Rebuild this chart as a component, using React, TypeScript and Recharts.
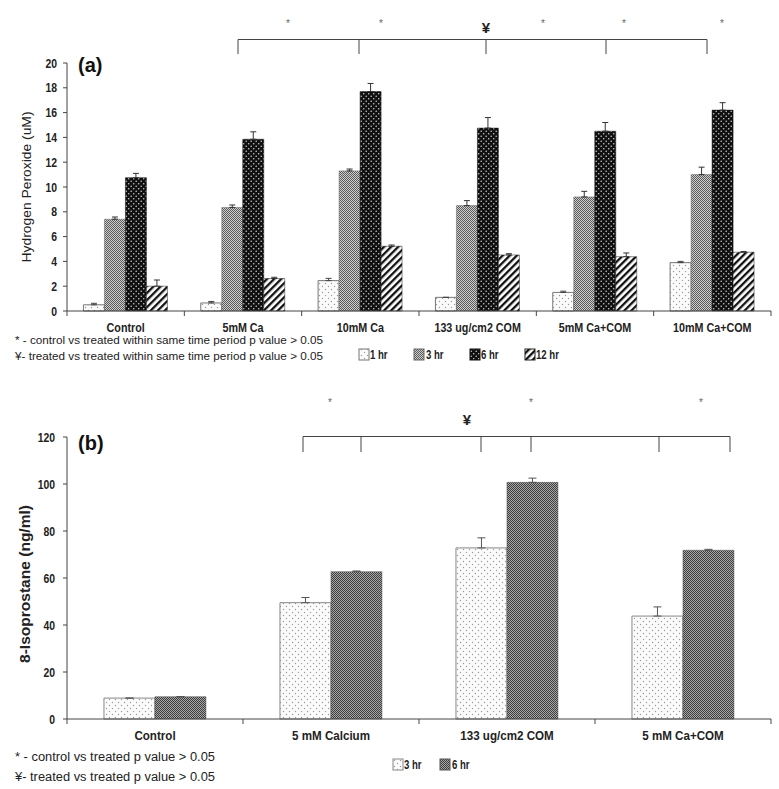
import React from 'react';
import { BarChart, Bar, XAxis, YAxis, ErrorBar } from 'recharts';

// ---------- Panel (a): Hydrogen peroxide ----------
const hpCategories = ['Control', '5mM Ca', '10mM Ca', '133 ug/cm2 COM', '5mM Ca+COM', '10mM Ca+COM'];
const hp1hr = [0.5, 0.65, 2.45, 1.1, 1.5, 3.9];
const hp1hrErr = [0.12, 0.12, 0.18, 0, 0.1, 0.1];
const hp3hr = [7.4, 8.35, 11.3, 8.5, 9.2, 11.0];
const hp3hrErr = [0.18, 0.2, 0.15, 0.4, 0.45, 0.6];
const hp6hr = [10.75, 13.85, 17.7, 14.75, 14.5, 16.2];
const hp6hrErr = [0.35, 0.6, 0.65, 0.85, 0.7, 0.6];
const hp12hr = [2.0, 2.62, 5.22, 4.52, 4.38, 4.74];
const hp12hrErr = [0.5, 0.1, 0.1, 0.1, 0.3, 0.06];
const hpTicks = [0, 2, 4, 6, 8, 10, 12, 14, 16, 18, 20];

// ---------- Panel (b): 8-Isoprostane ----------
const isoCategories = ['Control', '5 mM Calcium', '133 ug/cm2 COM', '5 mM Ca+COM'];
const iso3hr = [8.9, 49.5, 72.8, 43.8];
const iso3hrErr = [0, 2.2, 4.3, 3.9];
const iso6hr = [9.5, 62.7, 100.7, 71.8];
const iso6hrErr = [0, 0.3, 1.8, 0.4];
const isoTicks = [0, 20, 40, 60, 80, 100, 120];

const hpData = hpCategories.map((c, i) => ({
  name: c,
  h1: hp1hr[i], h1e: [0, hp1hrErr[i]],
  h3: hp3hr[i], h3e: [0, hp3hrErr[i]],
  h6: hp6hr[i], h6e: [0, hp6hrErr[i]],
  h12: hp12hr[i], h12e: [0, hp12hrErr[i]],
}));

const isoData = isoCategories.map((c, i) => ({
  name: c,
  h3: iso3hr[i], h3e: [0, iso3hrErr[i]],
  h6: iso6hr[i], h6e: [0, iso6hrErr[i]],
}));

const SANS = "'Liberation Sans', Arial, sans-serif";
const NARROW_X = 0.8;

const PLOT_W = 704;

const Narrow = ({ x, y, size, bold, anchor, children, sx, fill }: any) => (
  <text
    transform={`translate(${x},${y}) scale(${sx ?? NARROW_X},1)`}
    textAnchor={anchor || 'start'}
    fontSize={size}
    fontWeight={bold ? 'bold' : 'normal'}
    fontFamily={SANS}
    fill={fill || '#222'}
  >
    {children}
  </text>
);

const makeCatTick = (nCats: number, fontSize: number, sx: number) => (props: any) => {
  const { x, y, payload, index } = props;
  const off = PLOT_W / nCats / 2;
  return (
    <g>
      <line x1={x - off} x2={x - off} y1={y} y2={y + 5} stroke="#444" />
      {index === nCats - 1 ? <line x1={x + off} x2={x + off} y1={y} y2={y + 5} stroke="#444" /> : null}
      <Narrow x={x} y={y + 21} size={fontSize} bold anchor="middle" sx={sx}>
        {payload.value}
      </Narrow>
    </g>
  );
};

const YTick = (props: any) => {
  const { x, y, payload } = props;
  return (
    <Narrow x={x} y={y + 4.5} size={13} bold anchor="end" sx={0.8}>
      {payload.value}
    </Narrow>
  );
};

const Patterns = () => (
  <svg width={0} height={0} style={{ position: 'absolute' }}>
    <defs>
      <pattern id="pLight" patternUnits="userSpaceOnUse" width="6" height="6">
        <rect width="6" height="6" fill="#fbfbfb" />
        <circle cx="1.5" cy="1.5" r="0.7" fill="#9a9a9a" />
        <circle cx="4.5" cy="4.5" r="0.7" fill="#9a9a9a" />
      </pattern>
      <pattern id="pCheck" patternUnits="userSpaceOnUse" width="2" height="2">
        <rect width="2" height="2" fill="#cfcfcf" />
        <rect x="0" y="0" width="1" height="1" fill="#5a5a5a" />
        <rect x="1" y="1" width="1" height="1" fill="#5a5a5a" />
      </pattern>
      <pattern id="pCheckDark" patternUnits="userSpaceOnUse" width="2" height="2">
        <rect width="2" height="2" fill="#a8a8a8" />
        <rect x="0" y="0" width="1" height="1" fill="#3c3c3c" />
        <rect x="1" y="1" width="1" height="1" fill="#3c3c3c" />
      </pattern>
      <pattern id="pDarkDots" patternUnits="userSpaceOnUse" width="5" height="5">
        <rect width="5" height="5" fill="#101010" />
        <circle cx="1.2" cy="1.2" r="0.8" fill="#c8c8c8" />
        <circle cx="3.7" cy="3.7" r="0.8" fill="#c8c8c8" />
      </pattern>
      <pattern id="pStripe" patternUnits="userSpaceOnUse" width="5" height="5" patternTransform="rotate(45)">
        <rect width="5" height="5" fill="#ffffff" />
        <rect x="0" y="0" width="2.3" height="5" fill="#111" />
      </pattern>
    </defs>
  </svg>
);

const LegendBox = ({ x, y, fill, stroke }: any) => (
  <rect x={x} y={y} width={10} height={11} fill={fill} stroke={stroke} strokeWidth={1} />
);

export default function App() {
  const HpTick = makeCatTick(hpCategories.length, 12.5, 0.86);
  const IsoTick = makeCatTick(isoCategories.length, 13.5, 0.86);
  return (
    <div style={{ position: 'absolute', left: 0, top: 0, width: 779, height: 789, background: '#fff', overflow: 'hidden' }}>
      <Patterns />
      {/* Panel (a) */}
      <div style={{ position: 'absolute', left: 0, top: 0 }}>
        <BarChart
          width={779}
          height={345}
          data={hpData}
          margin={{ top: 63, right: 8, bottom: 4, left: 0 }}
          barGap={0}
          barCategoryGap="14%"
        >
          <XAxis
            dataKey="name"
            height={30}
            tickLine={false}
            tickSize={0}
            tickMargin={0}
            axisLine={{ stroke: '#444' }}
            tick={<HpTick />}
            interval={0}
          />
          <YAxis
            width={67}
            domain={[0, 20]}
            ticks={hpTicks}
            interval={0}
            tickSize={4}
            tickMargin={6}
            axisLine={{ stroke: '#444' }}
            tickLine={{ stroke: '#444' }}
            tick={<YTick />}
          />
          <Bar dataKey="h1" fill="url(#pLight)" stroke="#777" strokeWidth={1} isAnimationActive={false}>
            <ErrorBar dataKey="h1e" width={3} stroke="#444" strokeWidth={1} direction="y" />
          </Bar>
          <Bar dataKey="h3" fill="url(#pCheck)" stroke="#666" strokeWidth={0.5} isAnimationActive={false}>
            <ErrorBar dataKey="h3e" width={3} stroke="#333" strokeWidth={1} direction="y" />
          </Bar>
          <Bar dataKey="h6" fill="url(#pDarkDots)" stroke="#111" strokeWidth={0.5} isAnimationActive={false}>
            <ErrorBar dataKey="h6e" width={3} stroke="#333" strokeWidth={1} direction="y" />
          </Bar>
          <Bar dataKey="h12" fill="url(#pStripe)" stroke="#222" strokeWidth={0.5} isAnimationActive={false}>
            <ErrorBar dataKey="h12e" width={3} stroke="#333" strokeWidth={1} direction="y" />
          </Bar>
        </BarChart>
      </div>

      {/* Panel (b) */}
      <div style={{ position: 'absolute', left: 0, top: 380 }}>
        <BarChart
          width={779}
          height={375}
          data={isoData}
          margin={{ top: 57, right: 8, bottom: 6, left: 0 }}
          barGap={0}
          barCategoryGap="21%"
        >
          <XAxis
            dataKey="name"
            height={30}
            tickLine={false}
            tickSize={0}
            tickMargin={0}
            axisLine={{ stroke: '#444' }}
            tick={<IsoTick />}
            interval={0}
          />
          <YAxis
            width={67}
            domain={[0, 120]}
            ticks={isoTicks}
            interval={0}
            tickSize={4}
            tickMargin={8}
            axisLine={{ stroke: '#444' }}
            tickLine={{ stroke: '#444' }}
            tick={<YTick />}
          />
          <Bar dataKey="h3" fill="url(#pLight)" stroke="#888" strokeWidth={1} isAnimationActive={false}>
            <ErrorBar dataKey="h3e" width={4} stroke="#555" strokeWidth={1} direction="y" />
          </Bar>
          <Bar dataKey="h6" fill="url(#pCheckDark)" stroke="#555" strokeWidth={0.5} isAnimationActive={false}>
            <ErrorBar dataKey="h6e" width={4} stroke="#555" strokeWidth={1} direction="y" />
          </Bar>
        </BarChart>
      </div>

      {/* Annotations, labels, notes, legends */}
      <svg width={779} height={789} style={{ position: 'absolute', left: 0, top: 0, pointerEvents: 'none' }}>
        {/* Y axis titles */}
        <text transform="translate(31,187) rotate(-90)" textAnchor="middle" fontSize={12.5} fontFamily={SANS} fill="#222" textLength={151} lengthAdjust="spacingAndGlyphs">
          Hydrogen Peroxide (uM)
        </text>
        <text transform="translate(30,584) rotate(-90)" textAnchor="middle" fontSize={15} fontWeight="bold" fontFamily={SANS} fill="#222" textLength={158} lengthAdjust="spacingAndGlyphs">
          8-Isoprostane (ng/ml)
        </text>

        {/* Panel labels */}
        <text x={78} y={72} fontSize={20} fontWeight="bold" fontFamily={SANS} fill="#111">(a)</text>
        <text x={78} y={450} fontSize={20} fontWeight="bold" fontFamily={SANS} fill="#111">(b)</text>

        {/* Panel (a) significance bracket */}
        <g stroke="#444" strokeWidth={1} fill="none">
          <line x1={238} x2={707} y1={39.5} y2={39.5} />
          {[238, 359, 486, 606, 707].map((x) => (
            <line key={x} x1={x} x2={x} y1={39.5} y2={54} />
          ))}
        </g>
        {[288, 381, 543, 624, 722].map((x) => (
          <text key={x} x={x} y={27} textAnchor="middle" fontSize={10} fill="#666" fontFamily={SANS}>*</text>
        ))}
        <text x={486} y={33} textAnchor="middle" fontSize={15} fontWeight="bold" fill="#222" fontFamily={SANS}>¥</text>

        {/* Panel (b) significance bracket */}
        <g stroke="#444" strokeWidth={1} fill="none">
          <line x1={303} x2={730} y1={436.5} y2={436.5} />
          {[303, 361, 481, 531, 659, 730].map((x) => (
            <line key={x} x1={x} x2={x} y1={436.5} y2={452} />
          ))}
        </g>
        {[330, 531, 701].map((x) => (
          <text key={x} x={x} y={406} textAnchor="middle" fontSize={10} fill="#666" fontFamily={SANS}>*</text>
        ))}
        <text x={467} y={425} textAnchor="middle" fontSize={15} fontWeight="bold" fill="#222" fontFamily={SANS}>¥</text>

        {/* Panel (a) notes */}
        <text x={15} y={344} fontSize={11.5} fontFamily={SANS} fill="#222" textLength={308} lengthAdjust="spacingAndGlyphs">
          * - control vs treated  within same time period  p value &gt; 0.05
        </text>
        <text x={15} y={360} fontSize={11.5} fontFamily={SANS} fill="#222" textLength={308} lengthAdjust="spacingAndGlyphs">
          ¥- treated vs treated within same time period  p value &gt; 0.05
        </text>

        {/* Panel (a) legend */}
        <LegendBox x={359} y={349} fill="url(#pLight)" stroke="#777" />
        <Narrow x={370} y={359} size={12} bold>1 hr</Narrow>
        <LegendBox x={414} y={349} fill="url(#pCheck)" stroke="#666" />
        <Narrow x={426} y={359} size={12} bold>3 hr</Narrow>
        <LegendBox x={470} y={349} fill="url(#pDarkDots)" stroke="#111" />
        <Narrow x={481} y={359} size={12} bold>6 hr</Narrow>
        <LegendBox x={525} y={349} fill="url(#pStripe)" stroke="#222" />
        <Narrow x={536} y={359} size={12} bold>12 hr</Narrow>

        {/* Panel (b) notes */}
        <text x={15} y={761} fontSize={12} fontFamily={SANS} fill="#222" textLength={200} lengthAdjust="spacingAndGlyphs">
          * -  control vs treated p value &gt; 0.05
        </text>
        <text x={15} y={781} fontSize={12} fontFamily={SANS} fill="#222" textLength={200} lengthAdjust="spacingAndGlyphs">
          ¥- treated vs treated p value &gt; 0.05
        </text>

        {/* Panel (b) legend */}
        <LegendBox x={393} y={759} fill="url(#pLight)" stroke="#888" />
        <Narrow x={404} y={769} size={12} bold>3 hr</Narrow>
        <LegendBox x={440} y={759} fill="url(#pCheckDark)" stroke="#555" />
        <Narrow x={452} y={769} size={12} bold>6 hr</Narrow>
      </svg>
    </div>
  );
}
